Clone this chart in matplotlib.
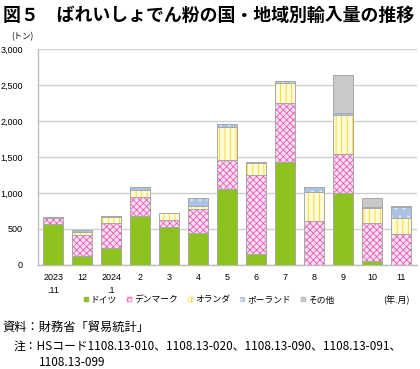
import matplotlib
matplotlib.use("Agg")
import matplotlib.pyplot as plt
import matplotlib.patches as mpatches
import numpy as np

plt.rcParams['font.family'] = ['Noto Sans CJK JP', 'DejaVu Sans']
plt.rcParams['hatch.linewidth'] = 0.6

categories = ["2023\n.11", "12", "2024\n.1", "2", "3", "4", "5", "6", "7", "8", "9", "10", "11"]
series_names = ["ドイツ", "デンマーク", "オランダ", "ポーランド", "その他"]
germany     = [570, 125, 230, 675, 525, 445, 1060, 155, 1430, 0, 1005, 50, 0]
denmark     = [85, 290, 360, 270, 95, 335, 400, 1090, 815, 615, 530, 535, 425]
netherlands = [0, 50, 70, 95, 100, 40, 460, 175, 280, 400, 555, 200, 225]
poland      = [5, 20, 15, 40, 0, 110, 45, 5, 30, 75, 25, 20, 155]
others      = [0, 0, 0, 0, 0, 0, 0, 0, 0, 0, 525, 130, 10]
yticks = [0, 500, 1000, 1500, 2000, 2500, 3000]

styles = [
    dict(face='#8DC21F', hatch=None, hcol=None),
    dict(face='#FBDDF1', hatch='xxxxx', hcol='#E45DB6'),
    dict(face='#FFFBD6', hatch='|||', hcol='#F7D31A'),
    dict(face='#A9C3E4', hatch='..', hcol='#E4ECF7'),
    dict(face='#C9C9C9', hatch=None, hcol=None),
]

fig = plt.figure(figsize=(4.2, 3.69), dpi=100)
ax = fig.add_axes([38/420, 1-265/369, 379/420, 216/369])

x = np.arange(len(categories))
w = 0.69
bottom = np.zeros(len(categories))
series = [germany, denmark, netherlands, poland, others]
for vals, st in zip(series, styles):
    v = np.array(vals, dtype=float)
    if st['hatch']:
        ax.bar(x, v, w, bottom=bottom, color=st['face'], hatch=st['hatch'],
               edgecolor=st['hcol'], linewidth=0, zorder=3)
        ax.bar(x, v, w, bottom=bottom, fill=False, edgecolor='#A8A8A8',
               linewidth=0.7, zorder=4)
    else:
        ax.bar(x, v, w, bottom=bottom, color=st['face'], edgecolor='#A8A8A8',
               linewidth=0.7, zorder=3)
    bottom += v

ax.set_xlim(-0.52, 12.55)
ax.set_ylim(0, 3000)
ax.set_yticks(yticks)
ax.set_yticklabels([f"{t:,}" for t in yticks], fontsize=6.5, family='Liberation Sans')
ax.set_xticks(x)
ax.set_xticklabels(categories, fontsize=6.5, family='Liberation Sans', linespacing=1.5)
ax.tick_params(axis='both', length=0, pad=6)
ax.tick_params(axis='y', pad=11)
ax.yaxis.grid(True, color='#CFCFCF', linewidth=1.0, zorder=0)
ax.set_axisbelow(True)
for s in ['top', 'right']:
    ax.spines[s].set_visible(False)
for s in ['left', 'bottom']:
    ax.spines[s].set_color('#BDBDBD')
    ax.spines[s].set_linewidth(1.0)

handles = []
for name, st in zip(series_names, styles):
    handles.append(mpatches.Patch(facecolor=st['face'], hatch=st['hatch'],
                                  edgecolor=st['hcol'] if st['hcol'] else '#A8A8A8',
                                  linewidth=0.3, label=name))
fig.legend(handles=handles, loc='center', bbox_to_anchor=(209/420, 1-300/369),
           ncol=5, frameon=False, fontsize=6.3, handlelength=0.6, handleheight=0.6,
           handletextpad=0.2, columnspacing=1.15, borderpad=0)

fig.text(396/420, 1-300/369, "(年.月)", fontsize=6.5, ha='center', va='center')
fig.text(22/420, 1-37/369, "(トン)", fontsize=6, ha='center', va='center')

fig.text(3/420, 1-16/369, "図５　ばれいしょでん粉の国・地域別輸入量の推移",
         fontsize=12.9, fontweight='bold', ha='left', va='center')

fig.text(2/420, 1-327/369, "資料：財務省「貿易統計」", fontsize=8.8, ha='left', va='center')
fig.text(14/420, 1-346/369,
         "注：HSコード1108.13-010、1108.13-020、1108.13-090、1108.13-091、",
         fontsize=8.5, ha='left', va='center')
fig.text(39/420, 1-362/369, "1108.13-099", fontsize=8.5, ha='left', va='center')

fig.savefig("out.png", dpi=100)
